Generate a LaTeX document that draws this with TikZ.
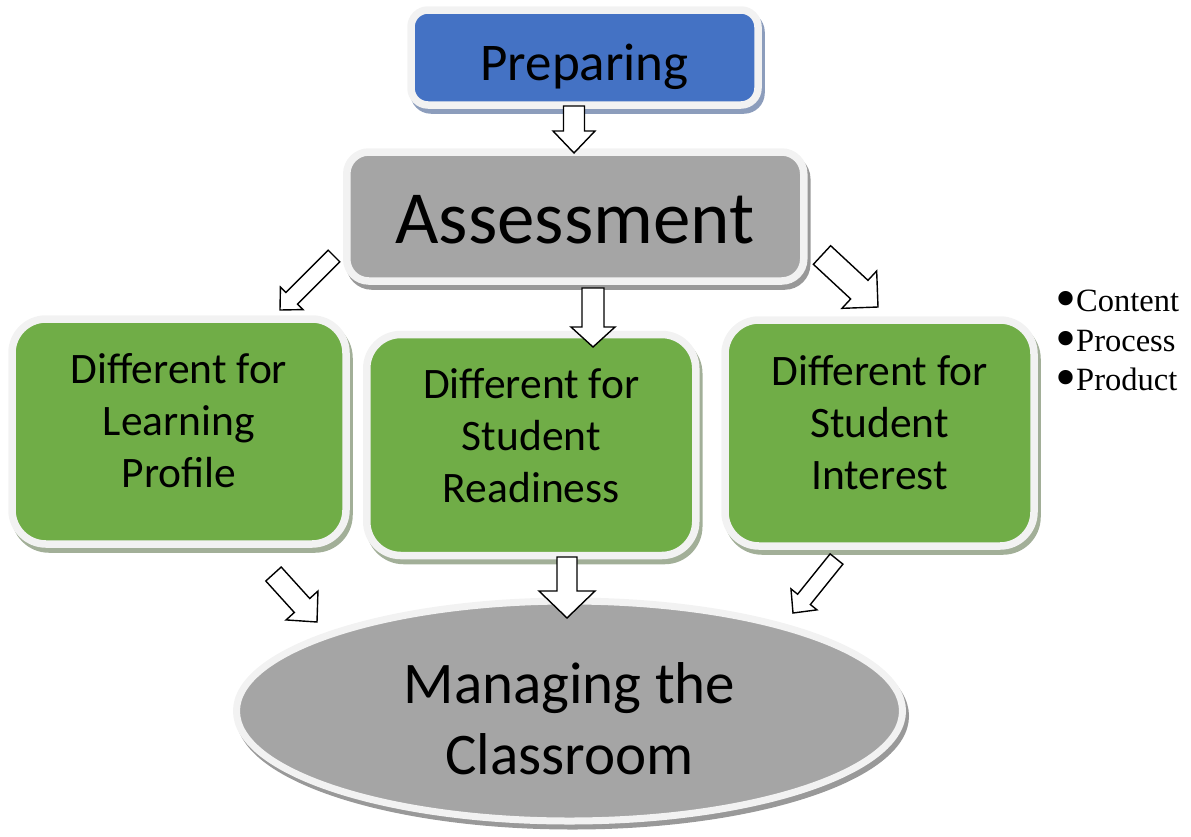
\documentclass[tikz,border=0pt]{standalone}
\usepackage{fontspec}
\setmainfont{Carlito}
\newfontfamily\timesf{Liberation Serif}
\usetikzlibrary{shapes.geometric,shadows,calc}
\definecolor{prepblue}{HTML}{4472C4}
\definecolor{boxgray}{HTML}{A5A5A5}
\definecolor{boxgreen}{HTML}{70AD47}
\definecolor{rimwhite}{HTML}{F2F2F2}
\definecolor{shblue}{HTML}{8C9DBC}
\definecolor{shgray}{HTML}{999999}
\definecolor{shgreen}{HTML}{A2AF98}
\newcommand{\BlkArrow}[5]{%
  \coordinate (#1-h) at ($(#2)!#5!(#1)$);
  \draw[blockarrow]
    ($(#1)!#3!90:(#2)$) --
    ($(#1-h)!#3!-90:(#1)$) --
    ($(#1-h)!#4!-90:(#1)$) --
    (#2) --
    ($(#1-h)!#4!90:(#1)$) --
    ($(#1-h)!#3!90:(#1)$) --
    ($(#1)!#3!-90:(#2)$) -- cycle;
}
\tikzset{
  shad/.style={drop shadow={shadow xshift=3pt, shadow yshift=-5pt, opacity=1, fill=#1, draw=#1}},
  rbox/.style={rectangle, draw=rimwhite, line width=7.5pt, inner sep=0pt, rounded corners=#1},
  greenbox/.style={rbox=34pt, fill=boxgreen, shad=shgreen},
  gtext/.style={align=center, inner sep=0pt, font=\fontsize{43.5}{52}\selectfont},
  blockarrow/.style={fill=white, draw=black, line width=1.4pt, line join=miter},
  bul/.style={anchor=base west, inner sep=0pt, font=\timesf\fontsize{32.5}{38}\selectfont}
}
\newcommand{\bdot}{\raisebox{-7.5pt}{\fontsize{60}{60}\selectfont\char"2022}}
\begin{document}
\begin{tikzpicture}[x=1pt,y=-1pt]
\useasboundingbox (0,0) rectangle (1191,836);
% boxes
\node[rbox=17pt, fill=prepblue, minimum width=347pt, minimum height=95pt, shad=shblue] (prep) at (584.5,57.5) {};
\node[rbox=22pt, fill=boxgray, minimum width=457pt, minimum height=129pt, shad=shgray] (assess) at (575.25,216.5) {};
\node[greenbox, minimum width=334pt, minimum height=225pt] (learn) at (179,431.5) {};
\node[greenbox, minimum width=329pt, minimum height=221pt] (ready) at (531.25,445) {};
\node[greenbox, minimum width=309pt, minimum height=226pt] (interest) at (879.5,433) {};
\node[ellipse, draw=rimwhite, line width=7pt, fill=boxgray, inner sep=0pt, minimum width=666pt, minimum height=220pt, shad=shgray] (manage) at (569.5,711) {};
% texts
\node[anchor=base, inner sep=0pt, font=\fontsize{53}{60}\selectfont] (prepT) at (584.5,80) {Preparing};
\node[anchor=base, inner sep=0pt, font=\fontsize{75}{80}\selectfont] (assessT) at (575,243) {Assessment};
\node[gtext] (learnT) at (179,421) {Different for\\Learning\\Profile};
\node[gtext] (readyT) at (531.25,436) {Different for\\Student\\Readiness};
\node[gtext] (interestT) at (879.5,423) {Different for\\Student\\Interest};
\node[align=center, inner sep=0pt, font=\fontsize{59}{71}\selectfont] (manageT) at (569.5,718.5) {Managing the\\Classroom};
% bullet list
\node[bul] (b1) at (1055,311) {\bdot Content};
\node[bul] (b2) at (1055,351) {\bdot Process};
\node[bul] (b3) at (1055,390) {\bdot Product};
% arrow end points
\coordinate (a1s) at (574,106);   \coordinate (a1t) at (574,153);
\coordinate (a2s) at (593,288);   \coordinate (a2t) at (593,347);
\coordinate (a3s) at (334,256);   \coordinate (a3t) at (280,310);
\coordinate (a4s) at (822,255);   \coordinate (a4t) at (878,307);
\coordinate (a5s) at (273.5,574); \coordinate (a5t) at (317,622);
\coordinate (a6s) at (567,557);   \coordinate (a6t) at (567,618);
\coordinate (a7s) at (836.5,559); \coordinate (a7t) at (793,613);
% block arrows
\BlkArrow{a1s}{a1t}{10.5pt}{21pt}{22pt}
\BlkArrow{a2s}{a2t}{11pt}{22pt}{20pt}
\BlkArrow{a3s}{a3t}{8.2pt}{16pt}{16.6pt}
\BlkArrow{a4s}{a4t}{12.7pt}{25.5pt}{25.5pt}
\BlkArrow{a5s}{a5t}{10.4pt}{21.5pt}{22.3pt}
\BlkArrow{a6s}{a6t}{10pt}{28pt}{27pt}
\BlkArrow{a7s}{a7t}{8.2pt}{16.7pt}{17.5pt}
\end{tikzpicture}
\end{document}
